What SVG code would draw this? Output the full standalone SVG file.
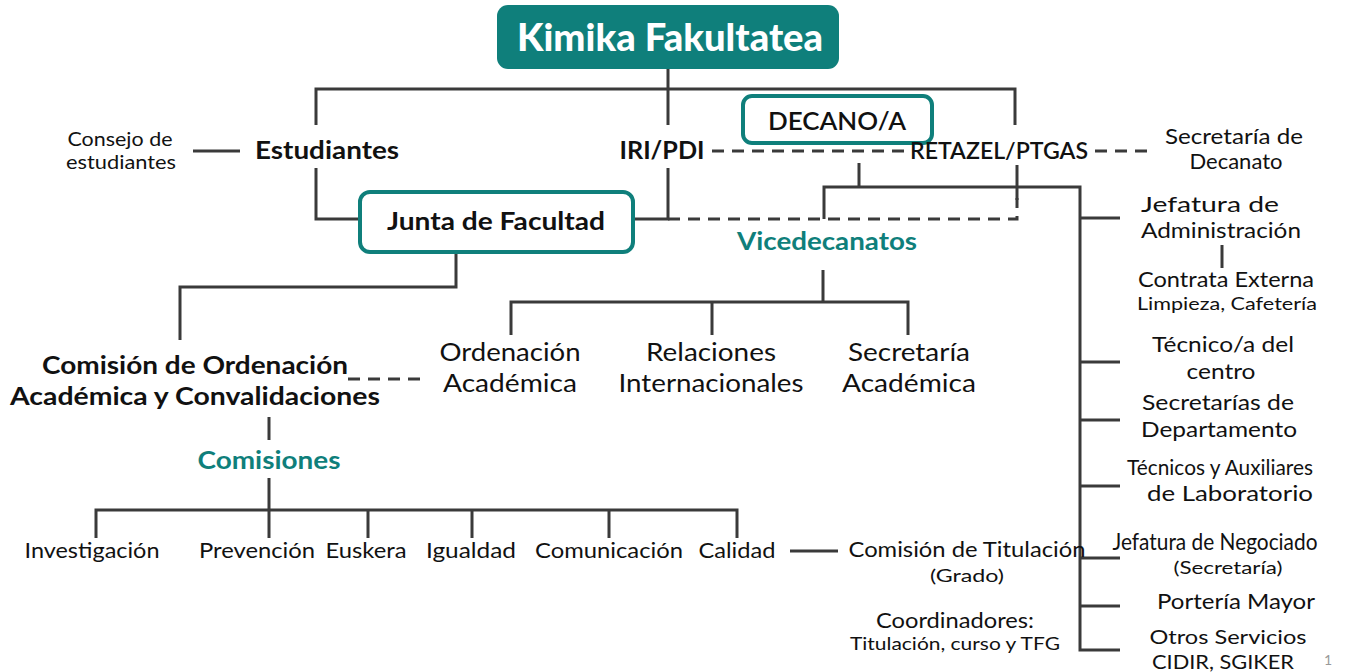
<svg xmlns="http://www.w3.org/2000/svg" width="1359" height="672" viewBox="0 0 1359 672">
<style>
text{font-family:Lato,"Open Sans","Liberation Sans",sans-serif;fill:#111;text-anchor:middle}
.b{font-weight:bold}
.t{fill:#0f7f7b;font-weight:bold}
.s{fill:none;stroke:#3a3a3a;stroke-width:3}
.d{fill:none;stroke:#3a3a3a;stroke-width:3;stroke-dasharray:12 8}
.box{fill:#fff;stroke:#0f7f7b;stroke-width:4}
</style>
<rect width="1359" height="672" fill="#fff"/>
<g id="connectors">
<path class="s" d="M668 69V89M316 125V89H1015V125M668 89V125"/>
<path class="s" d="M193 151H240"/>
<path class="d" d="M712 151H908"/>
<path class="d" d="M1095 151H1152"/>
<path class="s" d="M316 168V219H360"/>
<path class="s" d="M668 168V219H633"/>
<path class="d" d="M668 219H1017V198"/>
<path class="s" d="M1017 165V200"/>
<path class="s" d="M859 163V187M824 219V187H1080V650H1120"/>
<path class="s" d="M1080 218H1120M1080 362H1120M1080 420H1120M1080 486H1120M1080 558H1120M1080 606H1120"/>
<path class="s" d="M1222 245V268"/>
<path class="s" d="M456 252V287H180V340"/>
<path class="d" d="M348 379H428"/>
<path class="s" d="M823 270V302M511 335V302H908V335M712 302V335"/>
<path class="s" d="M269 417V440M269 478V538M96 538V510H737V538M368 510V538M472 510V538M609 510V538"/>
<path class="s" d="M790 551H838"/>
</g>
<g id="kimika">
<rect x="497" y="5" width="342" height="64" rx="11" fill="#0f7f7b"/>
<text x="670" y="51" style="font-size:37px;font-weight:900;fill:#fff" textLength="306" lengthAdjust="spacingAndGlyphs">Kimika Fakultatea</text>
</g>
<g id="decano">
<rect x="743" y="96" width="189" height="47" rx="9" class="box"/>
<text x="837" y="130" style="font-size:25px;font-weight:600" textLength="138" lengthAdjust="spacingAndGlyphs">DECANO/A</text>
</g>
<g id="consejo">
<text x="120" y="146" style="font-size:19px" textLength="105" lengthAdjust="spacingAndGlyphs">Consejo de</text>
<text x="121" y="169" style="font-size:19px" textLength="110" lengthAdjust="spacingAndGlyphs">estudiantes</text>
</g>
<g id="estudiantes"><text x="327" y="159" class="b" style="font-size:25px" textLength="144" lengthAdjust="spacingAndGlyphs">Estudiantes</text></g>
<g id="iri"><text x="662" y="159" class="b" style="font-size:25px" textLength="85" lengthAdjust="spacingAndGlyphs">IRI/PDI</text></g>
<g id="retazel"><text x="999" y="159" style="font-size:23px;font-weight:600" textLength="178" lengthAdjust="spacingAndGlyphs">RETAZEL/PTGAS</text></g>
<g id="secdecanato">
<text x="1234" y="144" style="font-size:22px" textLength="138" lengthAdjust="spacingAndGlyphs">Secretaría de</text>
<text x="1236" y="169" style="font-size:22px" textLength="93" lengthAdjust="spacingAndGlyphs">Decanato</text>
</g>
<g id="junta">
<rect x="360" y="192" width="273" height="60" rx="10" class="box"/>
<text x="496" y="230" class="b" style="font-size:24px" textLength="218" lengthAdjust="spacingAndGlyphs">Junta de Facultad</text>
</g>
<g id="vicedecanatos"><text x="827" y="250" class="t" style="font-size:24px" textLength="180" lengthAdjust="spacingAndGlyphs">Vicedecanatos</text></g>
<g id="coac">
<text x="195" y="374" class="b" style="font-size:24px" textLength="306" lengthAdjust="spacingAndGlyphs">Comisión de Ordenación</text>
<text x="195" y="405" class="b" style="font-size:24px" textLength="370" lengthAdjust="spacingAndGlyphs">Académica y Convalidaciones</text>
</g>
<g id="ordenacion">
<text x="510" y="361" style="font-size:25px" textLength="141" lengthAdjust="spacingAndGlyphs">Ordenación</text>
<text x="510" y="392" style="font-size:25px" textLength="134" lengthAdjust="spacingAndGlyphs">Académica</text>
</g>
<g id="relaciones">
<text x="711" y="361" style="font-size:25px" textLength="130" lengthAdjust="spacingAndGlyphs">Relaciones</text>
<text x="711" y="392" style="font-size:25px" textLength="185" lengthAdjust="spacingAndGlyphs">Internacionales</text>
</g>
<g id="secacademica">
<text x="909" y="361" style="font-size:25px" textLength="122" lengthAdjust="spacingAndGlyphs">Secretaría</text>
<text x="909" y="392" style="font-size:25px" textLength="134" lengthAdjust="spacingAndGlyphs">Académica</text>
</g>
<g id="comisiones"><text x="269" y="469" class="t" style="font-size:24px" textLength="143" lengthAdjust="spacingAndGlyphs">Comisiones</text></g>
<g id="investigacion"><text x="92" y="558" style="font-size:21px" textLength="135" lengthAdjust="spacingAndGlyphs">Investigación</text></g>
<g id="prevencion"><text x="257" y="558" style="font-size:21px" textLength="116" lengthAdjust="spacingAndGlyphs">Prevención</text></g>
<g id="euskera"><text x="366" y="558" style="font-size:21px" textLength="81" lengthAdjust="spacingAndGlyphs">Euskera</text></g>
<g id="igualdad"><text x="471" y="558" style="font-size:21px" textLength="90" lengthAdjust="spacingAndGlyphs">Igualdad</text></g>
<g id="comunicacion"><text x="609" y="558" style="font-size:21px" textLength="148" lengthAdjust="spacingAndGlyphs">Comunicación</text></g>
<g id="calidad"><text x="737" y="558" style="font-size:21px" textLength="77" lengthAdjust="spacingAndGlyphs">Calidad</text></g>
<g id="titulacion">
<text x="967" y="557" style="font-size:21px" textLength="237" lengthAdjust="spacingAndGlyphs">Comisión de Titulación</text>
<text x="967" y="582" style="font-size:18px" textLength="74" lengthAdjust="spacingAndGlyphs">(Grado)</text>
</g>
<g id="coordinadores">
<text x="955" y="628" style="font-size:21px" textLength="158" lengthAdjust="spacingAndGlyphs">Coordinadores:</text>
<text x="955" y="650" style="font-size:18px" textLength="210" lengthAdjust="spacingAndGlyphs">Titulación, curso y TFG</text>
</g>
<g id="jefadmin">
<text x="1210" y="212" style="font-size:22px" textLength="138" lengthAdjust="spacingAndGlyphs">Jefatura de</text>
<text x="1221" y="238" style="font-size:22px" textLength="160" lengthAdjust="spacingAndGlyphs">Administración</text>
</g>
<g id="contrata">
<text x="1226" y="287" style="font-size:21px" textLength="176" lengthAdjust="spacingAndGlyphs">Contrata Externa</text>
<text x="1227" y="310" style="font-size:18px" textLength="180" lengthAdjust="spacingAndGlyphs">Limpieza, Cafetería</text>
</g>
<g id="tecnico">
<text x="1223" y="352" style="font-size:22px" textLength="142" lengthAdjust="spacingAndGlyphs">Técnico/a del</text>
<text x="1221" y="379" style="font-size:22px" textLength="69" lengthAdjust="spacingAndGlyphs">centro</text>
</g>
<g id="secdep">
<text x="1218" y="410" style="font-size:22px" textLength="152" lengthAdjust="spacingAndGlyphs">Secretarías de</text>
<text x="1219" y="437" style="font-size:22px" textLength="156" lengthAdjust="spacingAndGlyphs">Departamento</text>
</g>
<g id="tecaux">
<text x="1220" y="475" style="font-size:22px" textLength="186" lengthAdjust="spacingAndGlyphs">Técnicos y Auxiliares</text>
<text x="1230" y="501" style="font-size:22px" textLength="166" lengthAdjust="spacingAndGlyphs">de Laboratorio</text>
</g>
<g id="negociado">
<text x="1215" y="550" style="font-size:23px" textLength="205" lengthAdjust="spacingAndGlyphs">Jefatura de Negociado</text>
<text x="1228" y="574" style="font-size:18px" textLength="109" lengthAdjust="spacingAndGlyphs">(Secretaría)</text>
</g>
<g id="porteria"><text x="1236" y="609" style="font-size:22px" textLength="158" lengthAdjust="spacingAndGlyphs">Portería Mayor</text></g>
<g id="otros">
<text x="1228" y="644" style="font-size:20px" textLength="157" lengthAdjust="spacingAndGlyphs">Otros Servicios</text>
<text x="1223" y="669" style="font-size:19px" textLength="142" lengthAdjust="spacingAndGlyphs">CIDIR, SGIKER</text>
</g>
<text x="1328" y="665" style="font-size:14px;fill:#999">1</text>
</svg>
